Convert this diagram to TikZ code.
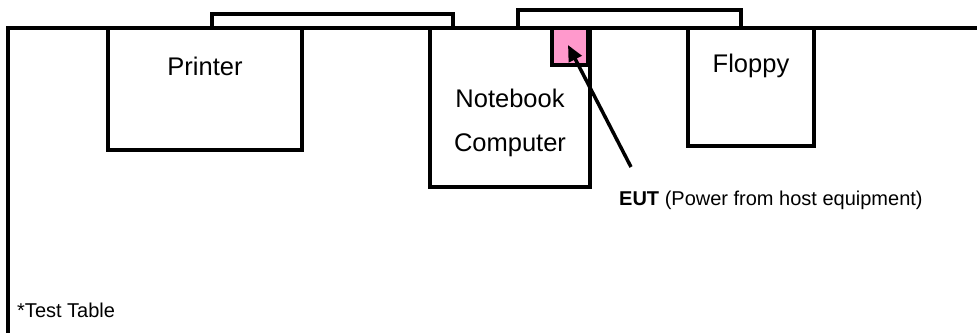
\documentclass[tikz,border=0pt]{standalone}
\usepackage{fontspec}
\setmainfont{Liberation Sans}
\usetikzlibrary{arrows.meta}
\begin{document}
\begin{tikzpicture}[x=1pt,y=-1pt,
  thick line/.style={line width=3.5pt},
  devbox/.style={draw,thick line,fill=white},
  lbl/.style={font=\fontsize{25.5}{30}\selectfont,inner sep=0pt},
  small/.style={font=\fontsize{20}{24}\selectfont,inner sep=0pt}]
\useasboundingbox (0,0) rectangle (977,332);
% top strips
\draw[devbox] (212,14) rectangle (453,28);
\draw[devbox] (518,10) rectangle (741,28);
% table
\draw[thick line,line cap=rect] (977,28) -- (8,28) -- (8,334);
% devices
\draw[devbox] (108,28) rectangle (302,150);
\draw[devbox] (430,28) rectangle (590,187);
\draw[devbox] (688,28) rectangle (814,146);
\draw[thick line,fill={rgb,255:red,255;green,153;blue,204}] (552,28) rectangle (588,65);
\node[lbl] (printer) at (205,66) {Printer};
\node[lbl] (nb1) at (510,98) {Notebook};
\node[lbl] (nb2) at (510,145) {Computer};
\node[lbl] (floppy) at (751,66) {Floppy};
\node[small,anchor=west] (eut) at (619,200) {\textbf{EUT} (Power from host equipment)};
\node[small,anchor=west] (tt) at (17,310) {*Test Table};
\coordinate (astart) at (631,167);
\coordinate (aend) at (568,45);
\draw[line width=3.5pt,-{Triangle[length=16pt,width=14pt]}] (astart) -- (aend);
\end{tikzpicture}
\end{document}
